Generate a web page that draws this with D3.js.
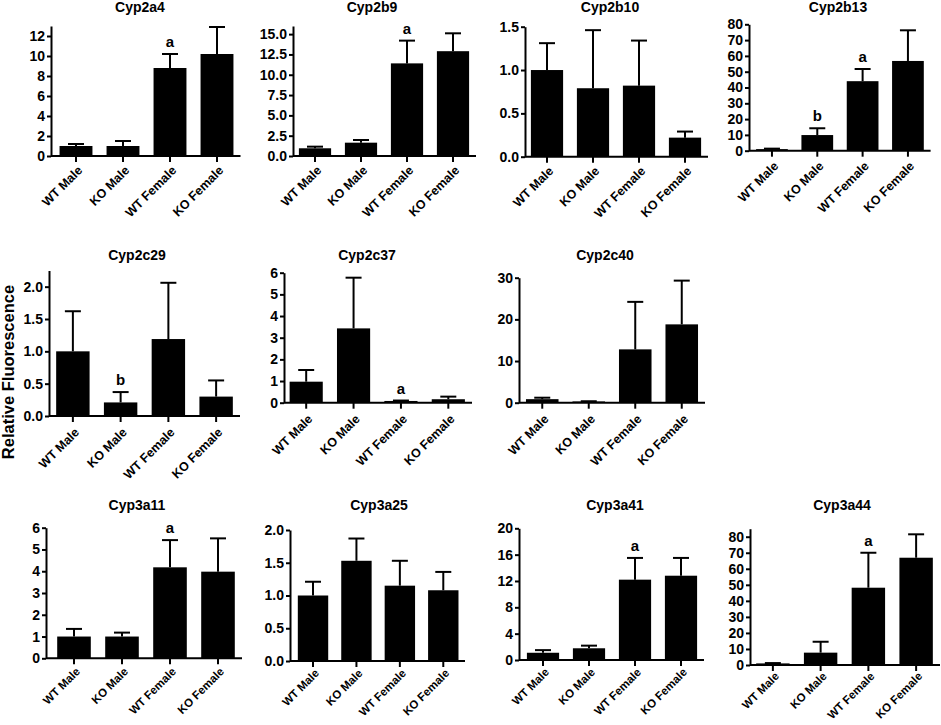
<!DOCTYPE html>
<html>
<head>
<meta charset="utf-8">
<script src="https://cdn.jsdelivr.net/npm/d3@7/dist/d3.min.js"></script>
<style>
  html, body { margin: 0; padding: 0; background: #fff; }
  svg { display: block; }
  text { font-family: "Liberation Sans", Arial, Helvetica, sans-serif; fill: #000; }
</style>
</head>
<body>
<svg id="chart" width="941" height="725"></svg>
<script>
// ---------- DATA ----------
const groups = ["WT Male", "KO Male", "WT Female", "KO Female"];
const genes = ["Cyp2a4", "Cyp2b9", "Cyp2b10", "Cyp2b13", "Cyp2c29", "Cyp2c37", "Cyp2c40", "Cyp3a11", "Cyp3a25", "Cyp3a41", "Cyp3a44"];

// mean relative fluorescence per gene (order of groups)
const means = [
  [1.0, 1.0, 8.8, 10.2],
  [0.95, 1.64, 11.4, 12.9],
  [1.0, 0.79, 0.82, 0.22],
  [1.0, 9.9, 44.0, 56.8],
  [1.0, 0.21, 1.19, 0.30],
  [0.97, 3.43, 0.08, 0.16],
  [0.85, 0.3, 12.8, 18.8],
  [1.0, 1.0, 4.18, 3.98],
  [1.0, 1.53, 1.15, 1.08],
  [1.1, 1.78, 12.2, 12.8],
  [1.0, 7.7, 48.2, 66.9]
];
// error (upper bar length)
const errors = [
  [0.2, 0.5, 1.4, 2.7],
  [0.2, 0.33, 2.8, 2.2],
  [0.31, 0.67, 0.52, 0.07],
  [0.3, 4.3, 7.7, 19.4],
  [0.62, 0.16, 0.87, 0.25],
  [0.54, 2.34, 0.02, 0.12],
  [0.35, 0.05, 11.4, 10.5],
  [0.35, 0.18, 1.25, 1.53],
  [0.21, 0.34, 0.38, 0.28],
  [0.4, 0.4, 3.3, 2.7],
  [0.2, 6.8, 21.8, 14.6]
];
// y axis domain max, tick step, decimals
const yMax = [13, 16, 1.5, 80, 2.25, 6, 30, 6, 2, 20, 85];
const yStep = [2, 2.5, 0.5, 10, 0.5, 1, 10, 1, 0.5, 4, 10];
const yTickMax = [12, 15, 1.5, 80, 2.0, 6, 30, 6, 2, 20, 80];
const yDecimals = [0, 1, 1, 0, 1, 0, 0, 0, 1, 0, 0];
// significance letters: [gene index, group index, letter]
const letters = [
  [0, 2, "a"], [1, 2, "a"], [3, 1, "b"], [3, 2, "a"], [4, 1, "b"],
  [5, 2, "a"], [7, 2, "a"], [9, 2, "a"], [10, 2, "a"]
];
const yAxisTitle = "Relative Fluorescence";

// ---------- LAYOUT (pixel positions only) ----------
// axisX, bandStart, bandEnd, zeroY, topY, titleX, titleY, labelOffsetY, labelFontSize
const layout = [
  [51, 52.5, 240.5, 156, 26, 140, 12, 12, 12.5],
  [293, 292, 476, 156, 26, 372, 12, 12, 12.5],
  [525, 524, 708, 156.7, 26.7, 610, 12, 12, 12.5],
  [749, 749.3, 930.6, 150.7, 24.3, 838, 12, 13, 12.5],
  [49, 49, 240, 416, 270.5, 137, 260, 14, 12.5],
  [284, 282.5, 472, 402.7, 272.7, 367, 260, 14, 12.5],
  [519, 519, 705, 402.7, 277.7, 605, 260, 14, 12.5],
  [46, 50, 242, 658.3, 527.7, 137, 510, 11, 11.5],
  [290, 291.3, 465, 661, 530, 379, 510, 10, 11.5],
  [519, 520, 704, 660, 528.3, 615, 510, 10, 11.5],
  [750, 749, 940, 665, 528.7, 842, 510, 9, 11.5]
];

const svg = d3.select("#chart");

genes.forEach((gene, gi) => {
  const [axisX, b0, b1, zeroY, topY, titleX, titleY, labOff, labFont] = layout[gi];
  const g = svg.append("g");

  const x = d3.scaleBand().domain(groups).range([b0, b1]).paddingInner(0.3).paddingOuter(0.15);
  const y = d3.scaleLinear().domain([0, yMax[gi]]).range([zeroY, topY]);

  const rows = groups.map((grp, i) => ({ grp, mean: means[gi][i], err: errors[gi][i] }));

  // title
  g.append("text")
    .attr("x", titleX).attr("y", titleY)
    .attr("text-anchor", "middle")
    .style("font-size", "14px").style("font-weight", "bold")
    .text(gene);

  // error bars
  const capW = 16;
  rows.forEach(d => {
    const cx = x(d.grp) + x.bandwidth() / 2;
    g.append("line")
      .attr("x1", cx).attr("x2", cx)
      .attr("y1", y(d.mean)).attr("y2", y(d.mean + d.err))
      .attr("stroke", "#000").attr("stroke-width", 2);
    g.append("line")
      .attr("x1", cx - capW / 2).attr("x2", cx + capW / 2)
      .attr("y1", y(d.mean + d.err)).attr("y2", y(d.mean + d.err))
      .attr("stroke", "#000").attr("stroke-width", 2);
  });

  // bars
  g.selectAll("rect.bar").data(rows).enter().append("rect")
    .attr("class", "bar")
    .attr("x", d => x(d.grp))
    .attr("width", x.bandwidth())
    .attr("y", d => y(d.mean))
    .attr("height", d => Math.max(1.5, zeroY - y(d.mean)))
    .attr("fill", "#000");

  // y axis
  const ticks = d3.range(0, yTickMax[gi] + yStep[gi] / 2, yStep[gi]);
  const yAxis = d3.axisLeft(y).tickValues(ticks)
    .tickFormat(d3.format("." + yDecimals[gi] + "f"))
    .tickSize(4).tickSizeOuter(0).tickPadding(2);
  const ya = g.append("g").attr("transform", `translate(${axisX},0)`).call(yAxis);
  ya.select(".domain").attr("stroke", "#000").attr("stroke-width", 2);
  ya.selectAll(".tick line").attr("stroke", "#000").attr("stroke-width", 2);
  ya.selectAll(".tick text")
    .style("font-size", "14px").style("font-weight", "bold")
    .style("font-family", "'Liberation Sans', Arial, sans-serif");

  // x axis
  const xAxis = d3.axisBottom(x).tickSizeInner(6).tickSizeOuter(0).tickPadding(0);
  const xa = g.append("g").attr("transform", `translate(0,${zeroY})`).call(xAxis);
  xa.select(".domain").remove();
  xa.append("line")
    .attr("x1", axisX).attr("x2", b1).attr("y1", 0).attr("y2", 0)
    .attr("stroke", "#000").attr("stroke-width", 2);
  xa.selectAll(".tick line").attr("stroke", "#000").attr("stroke-width", 2);
  xa.selectAll(".tick text")
    .attr("y", 0).attr("dy", "0.35em")
    .attr("text-anchor", "end")
    .attr("transform", `translate(4,${labOff}) rotate(-45)`)
    .style("font-size", labFont + "px").style("font-weight", "bold")
    .style("font-family", "'Liberation Sans', Arial, sans-serif");

  // letters
  letters.filter(l => l[0] === gi).forEach(l => {
    const grp = groups[l[1]];
    const top = means[gi][l[1]] + errors[gi][l[1]];
    g.append("text")
      .attr("x", x(grp) + x.bandwidth() / 2)
      .attr("y", y(top) - 7)
      .attr("text-anchor", "middle")
      .style("font-size", "15px").style("font-weight", "bold")
      .text(l[2]);
  });
});

// shared y-axis title
svg.append("text")
  .attr("transform", "translate(14,372) rotate(-90)")
  .attr("text-anchor", "middle")
  .style("font-size", "16.5px").style("font-weight", "bold")
  .text(yAxisTitle);
</script>
</body>
</html>
